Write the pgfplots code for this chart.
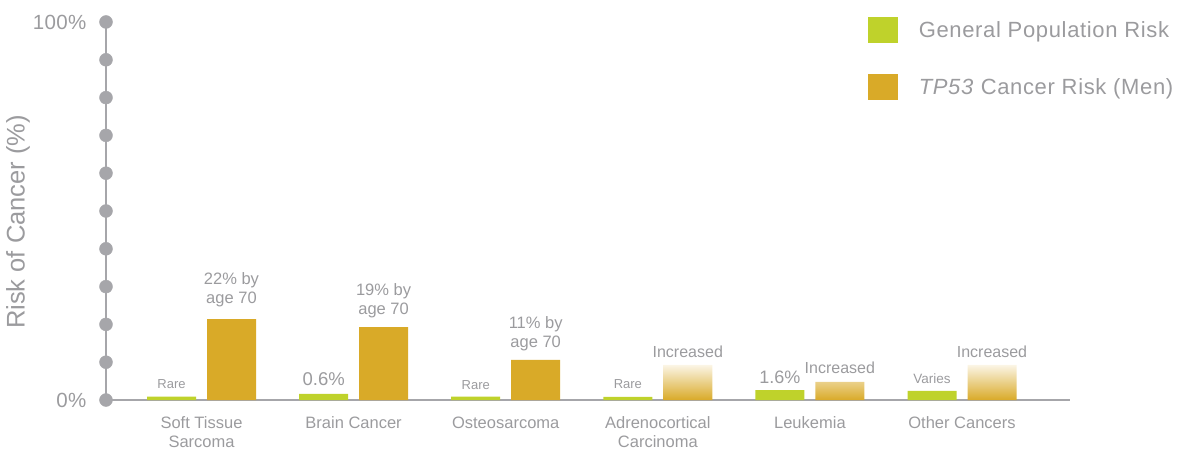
\documentclass[border=0pt]{standalone}
\usepackage{pgfplots}
\pgfplotsset{compat=1.18}
\usepackage{fontspec}
\setmainfont{Liberation Sans}

\definecolor{popgreen}{HTML}{BFD22B}
\definecolor{tpgold}{HTML}{D9AA28}
\definecolor{fadegold}{HTML}{FBF5E6}
\definecolor{txtgray}{HTML}{9B9B9E}
\definecolor{axgray}{HTML}{A6A6AA}

\tikzset{vlab/.style={text=txtgray, align=center, anchor=center, inner sep=0pt}}

\begin{document}
\begin{tikzpicture}
\path[use as bounding box] (0,0) rectangle (1199pt,450pt);
\begin{axis}[
    at={(106pt,50pt)}, anchor=south west,
    scale only axis, width=964pt, height=378pt,
    xmin=-0.628, xmax=5.710, ymin=0, ymax=100,
    clip=false,
    axis lines=left,
    axis line style={-, draw=axgray, line width=2pt},
    major tick length=0pt,
    xtick={0,...,5},
    xticklabels={{Soft Tissue\\Sarcoma},{Brain Cancer},{Osteosarcoma},{Adrenocortical\\Carcinoma},{Leukemia},{Other Cancers}},
    xticklabel style={align=center, font=\fontsize{16.5}{19}\selectfont, text=txtgray, yshift=-13pt},
    ytick={0,100},
    yticklabels={0\%,100\%},
    yticklabel style={font={\fontsize{20.5}{24}\selectfont\addfontfeature{LetterSpace=2}}, text=txtgray, xshift=-16pt},
    ylabel={Risk of Cancer (\%)},
    ylabel style={at={(axis description cs:-0.0913,0.471)}, anchor=center,
                  font=\fontsize{25.5}{30}\selectfont, text=txtgray},
    legend style={at={(axis description cs:0.790,1.013)}, anchor=north west,
                  draw=none, fill=none, inner sep=0pt,
                  font={\fontsize{22}{26}\selectfont\addfontfeature{LetterSpace=3}}, text=txtgray,
                  row sep=31pt,
                  /tikz/every odd column/.append style={column sep=19pt}},
    legend cell align=left,
    legend image code/.code={\fill[#1] (0pt,-13pt) rectangle (30pt,13pt);},
]
% general population
\addplot[ybar, bar width=49pt, bar shift=-30pt, fill=popgreen, draw=none]
    coordinates {(0,0.9) (1,1.6) (2,0.9) (3,0.8) (4,2.6) (5,2.4)};
\addlegendentry{General Population Risk}
% TP53 men, known values
\addplot[ybar, bar width=49pt, bar shift=30pt, fill=tpgold, draw=none]
    coordinates {(0,21.4) (1,19.3) (2,10.6)};
\addlegendentry{\textit{TP53} Cancer Risk (Men)}
% TP53 men, "increased"
\addplot[ybar, bar width=49pt, bar shift=30pt, draw=none,
         bottom color=tpgold, top color=fadegold, forget plot]
    coordinates {(3,9.3) (4,4.8) (5,9.3)};
% axis dots
\addplot[only marks, mark=*, mark size=6.5pt, color=axgray, forget plot]
    coordinates {(-0.628,0) (-0.628,10) (-0.628,20) (-0.628,30) (-0.628,40) (-0.628,50)
                 (-0.628,60) (-0.628,70) (-0.628,80) (-0.628,90) (-0.628,100)};

\node[vlab, font=\fontsize{13}{15}\selectfont] at (axis cs:-0.197,4.23) {Rare};
\node[vlab, font=\fontsize{16.5}{19.5}\selectfont] at (axis cs:0.197,29.2) {22\% by\\age 70};
\node[vlab, font=\fontsize{18.5}{22}\selectfont] at (axis cs:0.803,5.56) {0.6\%};
\node[vlab, font=\fontsize{16.5}{19.5}\selectfont] at (axis cs:1.197,26.2) {19\% by\\age 70};
\node[vlab, font=\fontsize{13}{15}\selectfont] at (axis cs:1.803,3.97) {Rare};
\node[vlab, font=\fontsize{16.5}{19.5}\selectfont] at (axis cs:2.197,17.5) {11\% by\\age 70};
\node[vlab, font=\fontsize{13}{15}\selectfont] at (axis cs:2.803,4.23) {Rare};
\node[vlab, font=\fontsize{16}{19}\selectfont] at (axis cs:3.197,12.7) {Increased};
\node[vlab, font=\fontsize{18}{22}\selectfont] at (axis cs:3.803,6.08) {1.6\%};
\node[vlab, font=\fontsize{16}{19}\selectfont] at (axis cs:4.197,8.47) {Increased};
\node[vlab, font=\fontsize{13.5}{16}\selectfont] at (axis cs:4.803,5.56) {Varies};
\node[vlab, font=\fontsize{16}{19}\selectfont] at (axis cs:5.197,12.7) {Increased};
\end{axis}
\end{tikzpicture}
\end{document}
